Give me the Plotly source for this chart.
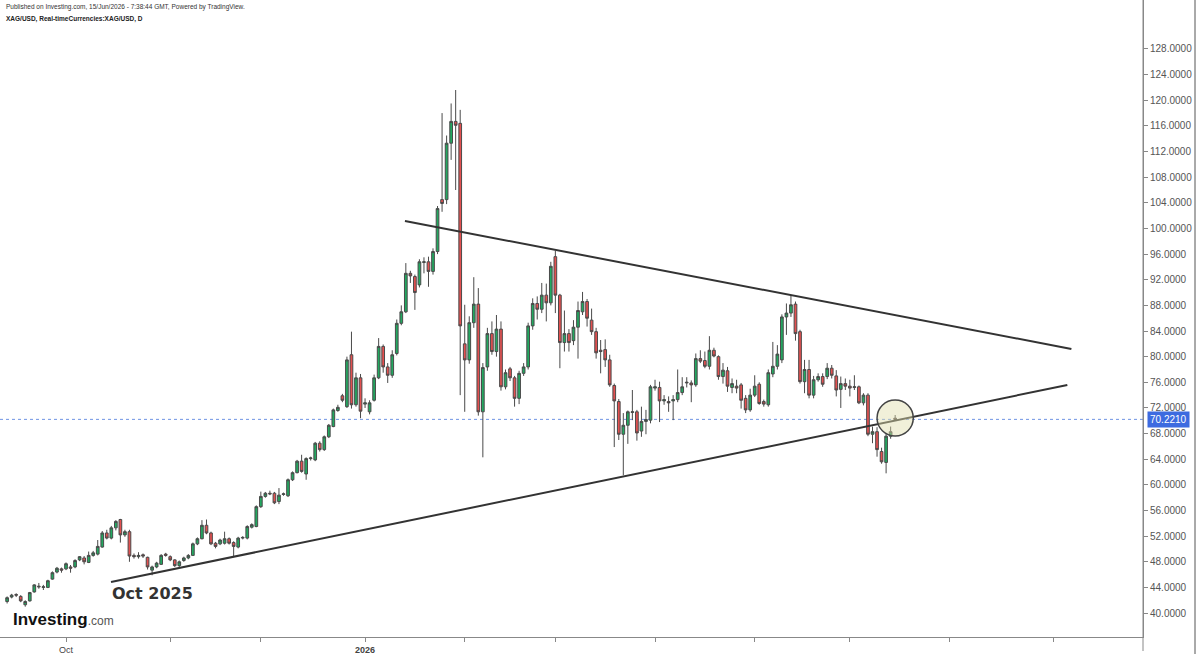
import pandas as pd
import plotly.graph_objects as go

# ---- data (daily XAG/USD candles) ----
START_DATE = "2025-09-12"
OPEN = [41.8, 42.5, 42.9, 42.6, 41.3, 41.9, 43.3, 44.2, 44.0, 44.0, 45.3, 46.4, 46.9,
        46.9, 47.2, 47.2, 48.3, 48.6, 47.9, 49.0, 49.2, 50.3, 52.5, 51.7, 53.3, 54.6, 52.2,
        52.7, 49.0, 48.8, 49.1, 48.7, 46.7, 47.2, 47.6, 49.2, 48.8, 48.3, 47.4, 48.2, 48.6,
        49.0, 50.8, 51.6, 53.7, 52.5, 50.9, 50.8, 50.9, 51.6, 51.0, 50.3, 51.7, 51.7, 53.4,
        53.5, 56.6, 58.2, 58.7, 58.7, 57.4, 58.5, 58.3, 60.8, 61.9, 63.7, 61.7, 64.1, 63.9,
        66.5, 65.5, 67.5, 69.1, 71.6, 73.9, 72.2, 80.3, 72.5, 76.7, 72.6, 71.4, 73.2, 76.7,
        81.6, 78.4, 77.1, 80.5, 85.2, 87.0, 93.0, 92.5, 91.2, 94.7, 94.8, 93.3, 96.4, 104.5,
        104.5, 113.3, 116.7, 116.4, 82.0, 79.5, 85.3, 88.2, 71.4, 78.4, 83.6, 80.8, 84.3,
        75.3, 78.1, 76.7, 73.5, 77.4, 78.4, 84.8, 88.3, 87.4, 89.6, 88.4, 95.6, 89.6, 82.2,
        83.6, 82.5, 84.6, 87.0, 88.6, 85.7, 83.9, 81.0, 81.1, 79.5, 75.5, 73.0, 67.9, 69.3,
        71.3, 71.4, 68.4, 69.9, 70.1, 75.1, 75.2, 73.1, 73.0, 73.1, 73.3, 74.4, 75.9, 75.9,
        75.6, 79.7, 79.4, 78.5, 81.0, 80.0, 76.9, 77.8, 75.2, 75.4, 75.6, 73.5, 71.7, 74.0,
        75.7, 73.0, 72.5, 77.3, 78.5, 79.5, 86.2, 86.8, 88.2, 83.9, 76.1, 78.0, 74.0, 76.4,
        76.9, 76.9, 78.2, 77.0, 74.9, 75.8, 75.4, 75.2, 75.3, 72.8, 74.0, 67.9, 68.3, 65.2,
        63.5, 67.6, 70.4]
HIGH = [42.6, 43.0, 43.1, 42.8, 42.0, 43.3, 44.5, 44.7, 44.4, 45.2, 46.5, 47.2, 47.1,
        47.9, 47.5, 48.4, 48.9, 48.9, 49.6, 49.7, 51.4, 52.8, 53.0, 53.6, 54.5, 54.7, 53.0,
        53.0, 49.3, 49.5, 49.3, 48.8, 47.4, 48.0, 49.2, 49.4, 49.0, 48.4, 48.2, 48.8, 49.2,
        51.0, 51.8, 54.5, 54.6, 52.7, 51.1, 51.6, 52.7, 51.8, 51.2, 51.9, 52.0, 53.7, 54.0,
        56.8, 58.95, 58.9, 59.1, 58.9, 59.5, 58.8, 61.0, 62.1, 63.9, 64.7, 64.3, 64.4, 66.7,
        66.8, 67.7, 69.5, 71.9, 72.5, 74.2, 80.0, 83.9, 77.5, 77.3, 73.5, 73.2, 77.2, 82.9,
        81.9, 79.0, 81.0, 85.8, 88.0, 94.6, 93.4, 92.8, 95.2, 95.5, 95.6, 96.9, 103.5, 118.0,
        114.5, 119.5, 121.6, 118.5, 88.1, 86.3, 92.4, 90.7, 79.0, 84.5, 85.5, 86.5, 85.5,
        78.0, 78.4, 77.0, 77.8, 79.0, 85.3, 89.1, 89.4, 91.5, 91.4, 94.8, 96.5, 89.8, 87.2,
        84.3, 85.7, 88.6, 90.1, 89.0, 87.5, 84.5, 82.6, 82.7, 80.3, 75.8, 73.4, 71.2, 71.6,
        74.8, 71.7, 72.2, 71.7, 75.6, 76.4, 76.1, 74.0, 73.8, 74.0, 78.0, 76.8, 76.8, 76.3,
        80.5, 81.0, 80.8, 83.2, 81.4, 80.2, 79.0, 78.4, 76.6, 76.4, 75.9, 74.0, 75.0, 77.1,
        76.0, 73.3, 78.0, 82.3, 81.8, 86.6, 88.3, 89.6, 88.6, 84.2, 79.5, 79.5, 77.0, 77.4,
        77.4, 79.0, 78.7, 77.9, 76.9, 76.6, 76.4, 77.1, 75.5, 74.3, 74.3, 69.1, 69.0, 65.8,
        68.0, 69.1, 70.9]
LOW = [41.5, 42.3, 42.5, 41.7, 41.0, 41.8, 43.2, 43.8, 43.6, 43.9, 45.2, 46.2, 46.3,
       46.7, 46.3, 47.0, 48.1, 47.6, 47.8, 48.8, 49.0, 50.2, 51.5, 51.5, 52.9, 51.0, 51.9,
       48.0, 48.5, 48.5, 48.6, 46.8, 45.9, 47.0, 47.5, 48.8, 48.1, 47.2, 47.2, 48.0, 48.4,
       48.9, 50.6, 51.5, 52.3, 50.6, 50.1, 50.6, 50.7, 50.7, 48.8, 50.1, 51.5, 51.5, 53.2,
       53.4, 56.4, 58.0, 58.4, 57.0, 57.0, 58.3, 58.1, 60.6, 61.8, 61.9, 60.8, 63.8, 63.7,
       65.2, 65.3, 67.3, 69.0, 71.4, 72.9, 72.0, 71.9, 72.2, 70.4, 72.0, 71.0, 73.0, 76.5,
       77.5, 75.9, 76.7, 80.2, 84.9, 86.8, 91.5, 87.3, 90.8, 93.0, 90.9, 92.8, 96.0, 102.6,
       103.8, 110.7, 106.0, 74.0, 71.4, 78.9, 84.5, 70.8, 64.3, 77.8, 80.3, 80.0, 74.7,
       74.9, 76.2, 72.2, 72.6, 77.0, 78.0, 84.2, 85.8, 86.8, 85.5, 88.0, 86.8, 78.2, 80.8,
       80.8, 81.8, 79.7, 86.5, 84.7, 83.4, 79.7, 77.4, 78.4, 75.3, 65.9, 67.0, 61.5, 66.4,
       70.1, 66.9, 67.5, 67.9, 69.6, 74.7, 69.8, 72.5, 71.4, 70.1, 72.9, 74.0, 75.2, 72.9,
       75.3, 79.0, 78.2, 78.0, 79.9, 76.4, 75.8, 74.5, 74.3, 74.3, 71.9, 71.2, 71.4, 73.7,
       72.5, 72.2, 72.2, 76.8, 78.0, 79.0, 83.4, 86.2, 82.5, 75.8, 74.3, 73.5, 73.5, 76.1,
       75.3, 76.5, 76.6, 73.8, 72.0, 74.8, 73.8, 74.8, 72.6, 72.4, 67.6, 66.5, 64.4, 63.3,
       61.8, 67.2, 70.0]
CLOSE = [42.4, 42.8, 42.8, 41.9, 41.8, 43.2, 44.4, 44.1, 44.1, 45.05, 46.3, 47.0, 46.7,
         47.7, 47.0, 48.2, 48.8, 48.0, 49.0, 49.4, 50.4, 52.5, 51.7, 53.3, 54.3, 52.2, 52.7,
         48.9, 48.8, 49.0, 48.9, 47.2, 47.2, 47.8, 49.0, 49.0, 48.3, 47.4, 48.0, 48.6, 49.0,
         50.8, 51.6, 53.7, 52.5, 50.8, 50.4, 51.4, 51.6, 50.9, 50.4, 51.7, 51.8, 53.5, 53.8,
         56.6, 58.2, 58.7, 58.6, 57.2, 58.4, 58.6, 60.8, 61.9, 63.7, 62.1, 64.1, 64.2, 66.5,
         65.5, 67.5, 69.3, 71.7, 72.1, 73.2, 79.5, 72.5, 76.7, 71.5, 72.8, 72.8, 76.7, 81.6,
         78.4, 77.1, 80.3, 85.2, 87.0, 93.0, 92.6, 90.0, 94.8, 94.8, 93.3, 96.4, 103.1, 103.9,
         113.3, 116.7, 116.1, 84.8, 79.5, 85.3, 88.2, 71.4, 78.3, 83.6, 80.8, 84.3, 75.3,
         77.5, 76.7, 73.5, 77.4, 78.4, 84.8, 88.3, 87.4, 89.6, 88.4, 94.1, 89.6, 82.2, 83.6,
         82.2, 84.6, 87.2, 88.6, 86.0, 83.9, 80.6, 80.8, 79.5, 75.6, 73.1, 67.9, 69.3, 71.4,
         71.4, 68.1, 69.9, 70.2, 75.3, 75.3, 73.1, 73.3, 72.8, 73.3, 74.4, 75.3, 76.0, 75.6,
         79.7, 79.3, 78.5, 81.0, 80.1, 76.9, 77.9, 75.4, 75.8, 75.1, 73.2, 71.7, 74.0, 75.4,
         72.7, 72.6, 77.5, 78.5, 80.4, 86.2, 86.8, 88.1, 83.6, 76.1, 78.0, 74.0, 76.4, 76.9,
         75.7, 78.2, 77.1, 74.8, 75.8, 75.4, 75.1, 75.3, 72.8, 74.0, 67.9, 68.3, 65.5, 63.6,
         67.6, 68.3, 70.221]

LAST_PRICE = 70.221
Y_TICKS = [40, 44, 48, 52, 56, 60, 64, 68, 72, 76, 80, 84, 88, 92, 96, 100, 104, 108,
           112, 116, 120, 124, 128]
X_TICKS = ["2025-10-01", "2025-11-03", "2025-12-01", "2026-01-01", "2026-02-02",
           "2026-03-02", "2026-04-01", "2026-05-01", "2026-06-01", "2026-07-01",
           "2026-08-03"]
X_TICK_TEXT = ["Oct", "", "", "<b>2026</b>", "", "", "", "", "", "", ""]

# drawn trend lines (user drawings on the chart)
UPPER_X = ["2026-01-13 19:12", "2026-08-06 21:36"]
UPPER_Y = [101.17, 81.20]
LOWER_X = ["2025-10-14 22:20", "2026-08-06 00:00"]
LOWER_Y = [44.85, 75.58]
CIRCLE_X = ["2026-06-09", "2026-06-19"]
CIRCLE_Y = [67.63, 73.24]

dates = pd.bdate_range(START_DATE, periods=len(OPEN))

UP = "#22a860"
DOWN = "#e35050"
EDGE = "#4a4a4a"

fig = go.Figure()
fig.add_trace(go.Candlestick(
    x=dates, open=OPEN, high=HIGH, low=LOW, close=CLOSE,
    increasing=dict(fillcolor=UP, line=dict(color=EDGE, width=1)),
    decreasing=dict(fillcolor=DOWN, line=dict(color=EDGE, width=1)),
    showlegend=False, hoverinfo="skip",
))

shapes = [
    dict(type="line", xref="paper", yref="y", x0=0, x1=1, y0=LAST_PRICE, y1=LAST_PRICE,
         line=dict(color="#6f94e4", width=1, dash="dot"), layer="below"),
    dict(type="line", xref="x", yref="y", x0=UPPER_X[0], x1=UPPER_X[1],
         y0=UPPER_Y[0], y1=UPPER_Y[1], line=dict(color="#333333", width=2)),
    dict(type="line", xref="x", yref="y", x0=LOWER_X[0], x1=LOWER_X[1],
         y0=LOWER_Y[0], y1=LOWER_Y[1], line=dict(color="#333333", width=2)),
    dict(type="circle", xref="x", yref="y", x0=CIRCLE_X[0], x1=CIRCLE_X[1],
         y0=CIRCLE_Y[0], y1=CIRCLE_Y[1], fillcolor="rgba(225,222,170,0.45)",
         line=dict(color="#444444", width=1.5)),
    # price-scale frame lines
    dict(type="line", xref="paper", yref="paper", x0=1, x1=1, y0=-0.022, y1=1,
         line=dict(color="#888888", width=1)),
    dict(type="line", xref="paper", yref="paper", x0=1.0455, x1=1.0455, y0=-0.03, y1=1,
         line=dict(color="#555555", width=1)),
]

annotations = [
    dict(xref="paper", yref="paper", x=0.0035, y=0.989, xanchor="left", yanchor="middle",
         text="Published on Investing.com, 15/Jun/2026 - 7:38:44 GMT, Powered by TradingView.",
         showarrow=False, font=dict(family="Arial, Liberation Sans", size=6.5, color="#333333")),
    dict(xref="paper", yref="paper", x=0.0035, y=0.970, xanchor="left", yanchor="middle",
         text="<b>XAG/USD, Real-timeCurrencies:XAG/USD, D</b>",
         showarrow=False, font=dict(family="Arial, Liberation Sans", size=6.5, color="#222222")),
    dict(xref="paper", yref="paper", x=0.0965, y=0.069, xanchor="left", yanchor="middle",
         text="<b>Oct 2025</b>", showarrow=False,
         font=dict(family="DejaVu Sans", size=16, color="#333333")),
    dict(xref="paper", yref="paper", x=0.010, y=0.028, xanchor="left", yanchor="middle",
         text="<b>Investing</b><span style='font-size:12px;color:#555555'>.com</span>",
         showarrow=False, font=dict(family="Arial, Liberation Sans", size=17, color="#111111")),
    dict(xref="paper", yref="y", x=1.0035, y=LAST_PRICE, xanchor="left", yanchor="middle",
         text="70.2210", showarrow=False, bgcolor="#3d6be0", borderpad=2,
         font=dict(family="Arial, Liberation Sans", size=10, color="#ffffff")),
]

fig.update_layout(
    width=1200, height=654,
    margin=dict(l=0, r=57, t=0, b=17),
    paper_bgcolor="white", plot_bgcolor="white",
    boxgap=0.15,
    shapes=shapes, annotations=annotations,
    xaxis=dict(
        type="date",
        rangebreaks=[dict(bounds=["sat", "mon"])],
        range=["2025-09-10 10:19", "2026-08-28 16:48"],
        rangeslider=dict(visible=False),
        tickvals=X_TICKS, ticktext=X_TICK_TEXT,
        ticks="outside", ticklen=4, tickcolor="#888888",
        showline=True, linecolor="#888888", linewidth=1,
        showgrid=False, zeroline=False,
        tickfont=dict(family="Arial, Liberation Sans", size=9, color="#444444"),
    ),
    yaxis=dict(
        side="right",
        range=[36.27, 135.64],
        tickvals=Y_TICKS, ticktext=["%.4f" % v for v in Y_TICKS],
        ticks="outside", ticklen=4, tickcolor="#888888",
        showline=True, linecolor="#888888", linewidth=1,
        showgrid=False, zeroline=False,
        tickfont=dict(family="Arial, Liberation Sans", size=10, color="#555555"),
    ),
)

fig.write_html(
    "out.html",
    config={"displayModeBar": False},
    post_script="document.body.style.margin='0';document.body.style.overflow='hidden';",
)
